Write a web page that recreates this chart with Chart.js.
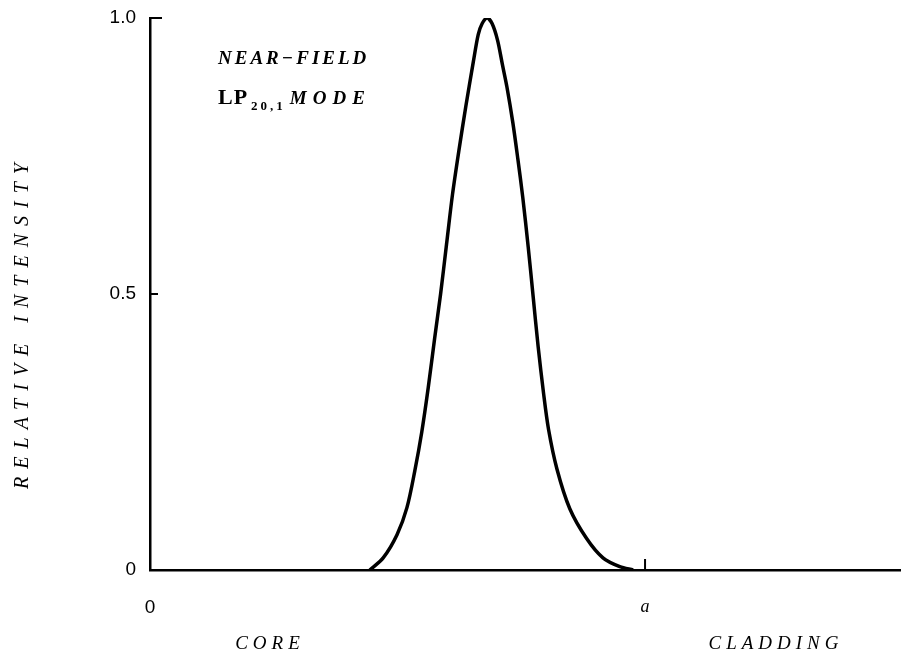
<!DOCTYPE html>
<html>
<head>
<meta charset="utf-8">
<script src="https://cdn.jsdelivr.net/npm/chart.js@4.4.0/dist/chart.umd.min.js"></script>
<style>
  html, body { margin: 0; padding: 0; background: #fff; }
  #wrap { width: 904px; height: 661px; position: relative; }
</style>
</head>
<body>
<div id="wrap"><canvas id="chart" width="904" height="661"></canvas></div>
<script>
// radial position in units of the core radius a
const radius = [0.444, 0.471, 0.499, 0.519, 0.535, 0.549, 0.562, 0.575, 0.587, 0.599,
  0.611, 0.624, 0.638, 0.653, 0.663, 0.671, 0.681, 0.691, 0.702, 0.712, 0.721, 0.733,
  0.743, 0.753, 0.764, 0.774, 0.784, 0.795, 0.805, 0.822, 0.848, 0.882, 0.915, 0.949,
  0.976];
const intensity = [0, 0.022, 0.064, 0.113, 0.18, 0.25, 0.33, 0.42, 0.50, 0.59,
  0.68, 0.76, 0.84, 0.92, 0.97, 0.99, 1.0, 0.99, 0.96, 0.915, 0.875, 0.81,
  0.745, 0.675, 0.585, 0.495, 0.405, 0.320, 0.255, 0.183, 0.111, 0.057, 0.022, 0.006,
  0];

const yTicks = [0, 0.5, 1.0];
const yTickLabels = ['0', '0.5', '1.0'];
const xTicks = [0, 1];
const xTickLabels = ['0', 'a'];

const points = radius.map((r, i) => ({ x: r, y: intensity[i] }));

const annotations = {
  id: 'annotations',
  afterDraw(chart) {
    const ctx = chart.ctx;
    const xs = chart.scales.x, ys = chart.scales.y;
    ctx.save();
    ctx.strokeStyle = '#000';
    ctx.lineWidth = 2;
    // inward ticks on the y axis
    ctx.beginPath();
    ctx.moveTo(xs.left, ys.getPixelForValue(1.0));
    ctx.lineTo(xs.left + 12, ys.getPixelForValue(1.0));
    ctx.moveTo(xs.left, ys.getPixelForValue(0.5));
    ctx.lineTo(xs.left + 8, ys.getPixelForValue(0.5));
    // tick at a
    const ax = xs.getPixelForValue(1);
    ctx.moveTo(ax, ys.getPixelForValue(0));
    ctx.lineTo(ax, ys.getPixelForValue(0) - 11);
    ctx.stroke();

    ctx.fillStyle = '#000';
    ctx.textBaseline = 'alphabetic';
    ctx.textAlign = 'left';
    ctx.letterSpacing = '3px';
    ctx.font = 'italic bold 19px "Liberation Serif"';
    ctx.fillText('NEAR\u2212FIELD', 218, 64);

    ctx.letterSpacing = '1px';
    ctx.font = 'bold 22px "Liberation Serif"';
    ctx.fillText('LP', 218, 104);
    let w = ctx.measureText('LP').width;
    ctx.font = 'bold 13px "Liberation Serif"';
    ctx.letterSpacing = '3px';
    ctx.fillText('20,1', 218 + w + 3, 110);
    w += ctx.measureText('20,1').width + 7;
    ctx.letterSpacing = '6px';
    ctx.font = 'italic bold 19px "Liberation Serif"';
    ctx.fillText('MODE', 218 + w, 104);

    ctx.font = 'italic 19px "Liberation Serif"';
    ctx.letterSpacing = '5px';
    ctx.textAlign = 'center';
    ctx.fillText('CORE', 270, 649);
    ctx.fillText('CLADDING', 776, 649);

    ctx.translate(28, 322);
    ctx.rotate(-Math.PI / 2);
    ctx.font = 'italic 20px "Liberation Serif"';
    ctx.letterSpacing = '8px';
    ctx.fillText('RELATIVE INTENSITY', 0, 0);
    ctx.restore();
  }
};

new Chart(document.getElementById('chart'), {
  type: 'scatter',
  data: {
    datasets: [{
      data: points,
      showLine: true,
      borderColor: '#000',
      borderWidth: 3.5,
      pointRadius: 0,
      tension: 0.3
    }]
  },
  options: {
    responsive: false,
    animation: false,
    devicePixelRatio: 1,
    layout: { padding: { left: 0, top: 18, right: 4, bottom: 0 } },
    plugins: { legend: { display: false }, tooltip: { enabled: false } },
    scales: {
      x: {
        type: 'linear',
        min: 0,
        max: 1.515,
        afterBuildTicks: s => { s.ticks = xTicks.map(v => ({ value: v })); },
        afterFit: s => { s.height = 91; s.paddingLeft = 0; s.paddingRight = 0; },
        grid: { display: false, drawTicks: false },
        border: { display: true, color: '#000', width: 2.5 },
        ticks: {
          padding: 26,
          color: '#000',
          maxRotation: 0,
          callback: (v) => xTickLabels[xTicks.indexOf(v)],
          font: ctx => (ctx.tick && ctx.tick.value === 1)
            ? { family: '"Liberation Serif"', style: 'italic', size: 18 }
            : { family: '"Liberation Sans"', size: 19 }
        }
      },
      y: {
        type: 'linear',
        min: 0,
        max: 1,
        afterBuildTicks: s => { s.ticks = yTicks.map(v => ({ value: v })); },
        afterFit: s => { s.width = 150; s.paddingTop = 0; s.paddingBottom = 0; },
        grid: { display: false, drawTicks: false },
        border: { display: true, color: '#000', width: 2.5 },
        ticks: {
          padding: 14,
          color: '#000',
          callback: (v) => yTickLabels[yTicks.indexOf(v)],
          font: { family: '"Liberation Sans"', size: 19 }
        }
      }
    }
  },
  plugins: [annotations]
});
</script>
</body>
</html>
